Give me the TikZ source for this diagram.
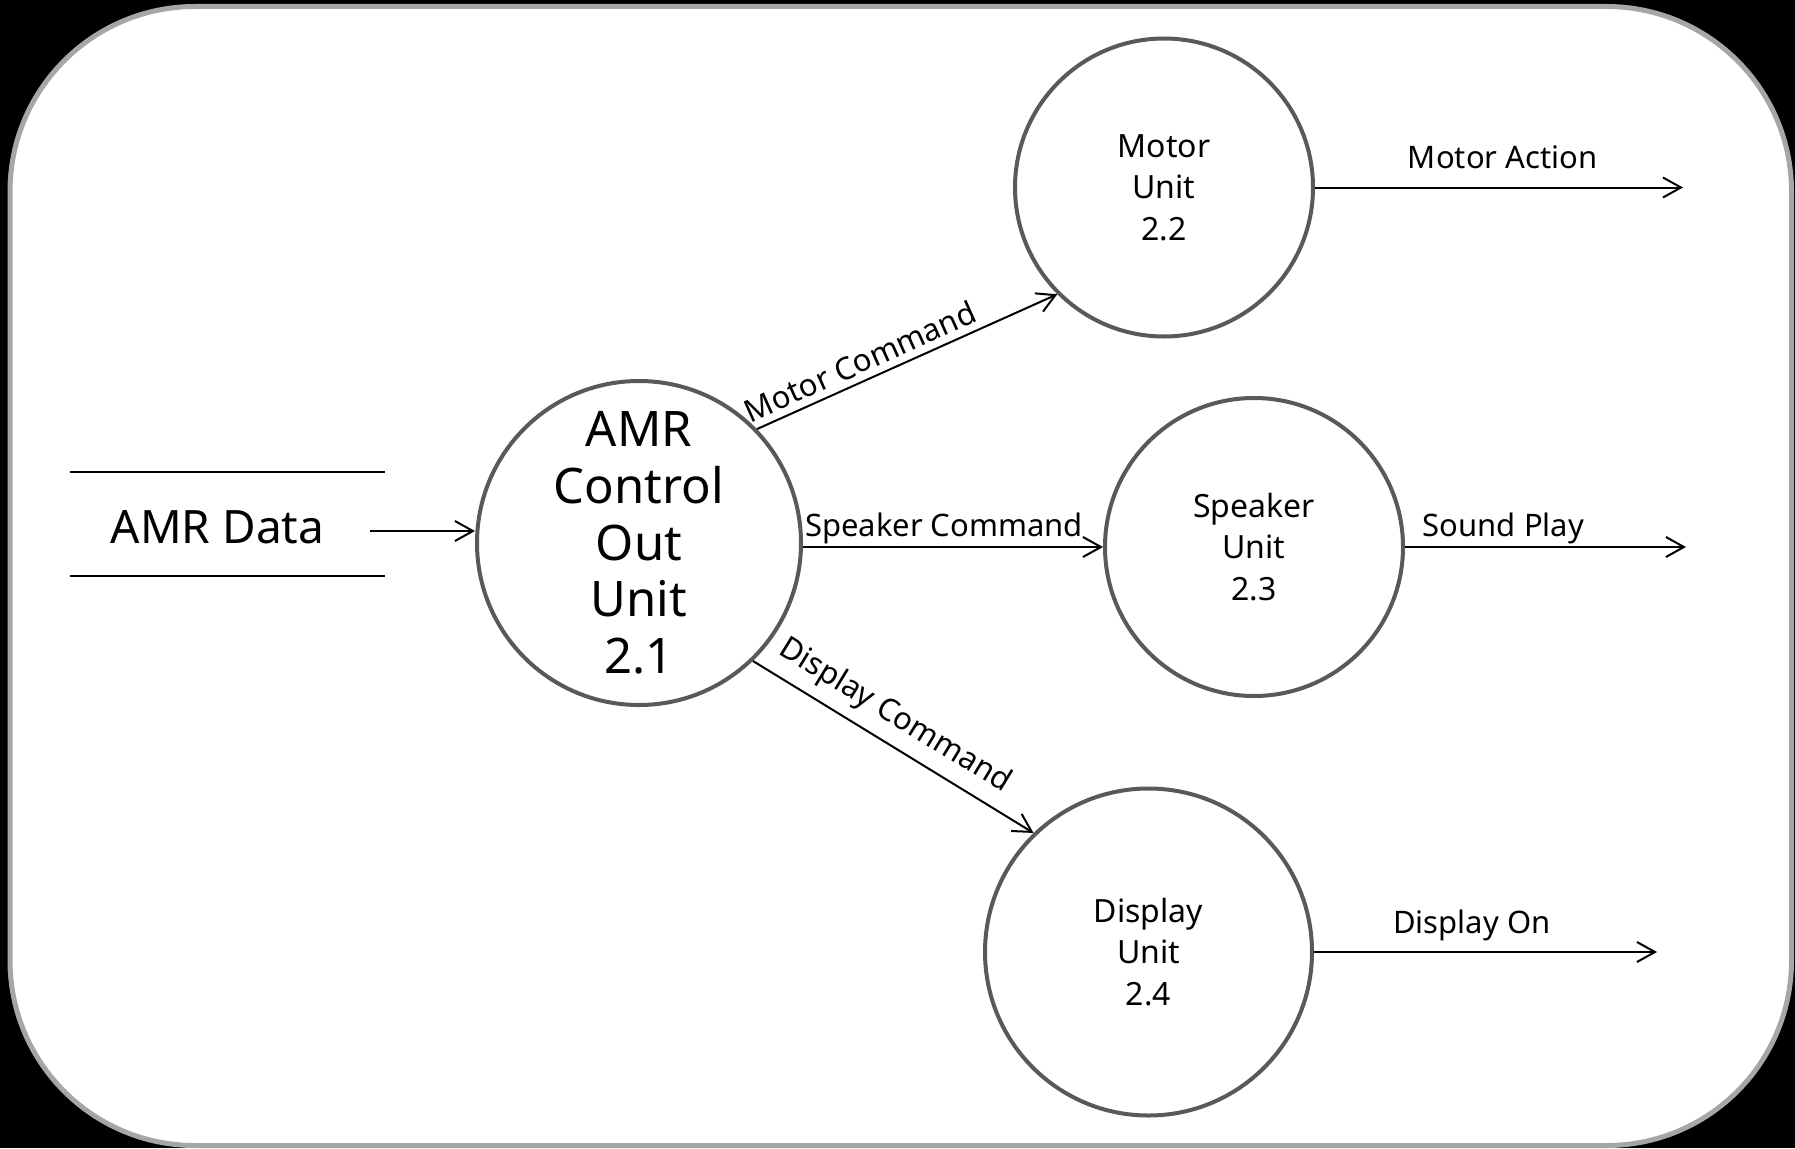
\documentclass[tikz,border=0pt]{standalone}
\usepackage{fontspec}
\setmainfont{Noto Sans}
\usetikzlibrary{arrows.meta}
\definecolor{circ}{RGB}{89,89,89}
\definecolor{framec}{RGB}{166,166,166}
\tikzset{
  proc/.style={circle, draw=circ, line width=4pt, fill=white, inner sep=0pt, align=center,
    font=\fontsize{32}{41.5}\selectfont},
  bigproc/.style={font=\fontsize{49}{56.7}\selectfont},
  flow/.style={draw=black, line width=2pt, -{Straight Barb[length=18pt,width=20pt]}},
  lab/.style={font=\fontsize{31}{36}\selectfont, text depth=0pt, inner xsep=0pt, outer sep=0pt},
}
\begin{document}
\begin{tikzpicture}[x=1pt,y=-1pt]
\useasboundingbox (0,0) rectangle (1795,1148);
\fill[black] (0,0) rectangle (1795,1148);
\draw[draw=framec, line width=5pt, fill=white, rounded corners=185pt] (10,6.5) rectangle (1791.5,1145.5);

% processes
\node[proc, bigproc, minimum size=324pt] (c21) at (639,543) {AMR\\Control\\Out\\Unit\\2.1};
\node[proc, minimum size=298pt] (c22) at (1164,187.5) {Motor\\Unit\\2.2};
\node[proc, minimum size=298pt] (c23) at (1254,547) {Speaker\\Unit\\2.3};
\node[proc, minimum size=327pt] (c24) at (1148.5,952) {Display\\Unit\\2.4};

% data store
\node[minimum width=315pt, minimum height=104pt, inner sep=0pt, outer sep=0pt] (store) at (227.5,524) {};
\draw[line width=2pt] (store.north west) -- (store.north east) (store.south west) -- (store.south east);
\node[font=\fontsize{46}{55}\selectfont, anchor=base, inner sep=0pt] (storetext) at (217.5,543) {AMR Data};

% free ends
\coordinate (a0) at (370,531);
\coordinate (ma) at (1683,187.5);
\coordinate (sp) at (1686,547);
\coordinate (dout) at (1657,952);

% flows
\draw[flow] (a0) -- (a0 -| c21.west);
\draw[flow] (c21.44) -- node[lab, above, sloped, pos=0.37, inner ysep=8pt] {Motor Command} (c22.225);
\draw[flow] (c23.west -| c21.east) -- node[lab, above, pos=0.47, inner ysep=11pt] {Speaker Command} (c23.west);
\draw[flow] (c21.314.5) -- node[lab, above, sloped, pos=0.455, inner ysep=19pt] {Display Command} (c24.134);
\draw[flow] (c22.east) -- node[lab, above, pos=0.51, inner ysep=19pt] {Motor Action} (ma);
\draw[flow] (c23.east) -- node[lab, above, pos=0.35, inner ysep=11pt] {Sound Play} (sp);
\draw[flow] (c24.east) -- node[lab, above, pos=0.46, inner ysep=18.5pt] {Display On} (dout);
\end{tikzpicture}
\end{document}
